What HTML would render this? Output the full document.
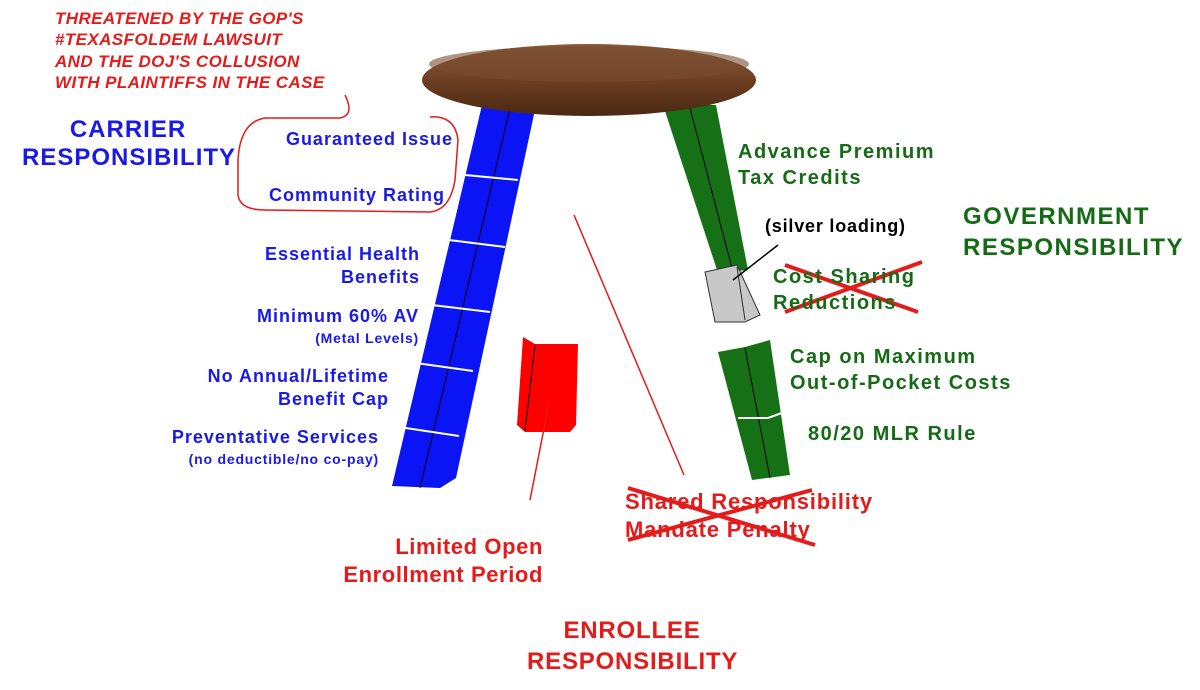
<!DOCTYPE html>
<html><head><meta charset="utf-8"><style>
body{margin:0;background:#fff;}
.w{position:relative;width:1200px;height:690px;overflow:hidden;font-family:"Liberation Sans",sans-serif;font-weight:bold;}
.t{position:absolute;white-space:nowrap;line-height:1.15;}
.b{color:#1a1ae6;font-size:18px;letter-spacing:1px;text-align:right;}
.b span{font-size:14px;letter-spacing:0.8px;}
.g{color:#156b15;font-size:20px;letter-spacing:1.5px;}
.r{color:#e31b1b;}
svg{position:absolute;left:0;top:0;}
</style></head><body><div class="w">
<svg width="1200" height="690">
<defs><linearGradient id="wd" x1="0" y1="0" x2="0" y2="1"><stop offset="0" stop-color="#8a5a3a"/><stop offset="0.5" stop-color="#6e3f22"/><stop offset="1" stop-color="#4a2812"/></linearGradient></defs>
<polygon points="482,105 536,105 456,478 440,488 392,486" fill="#0a14f5"/>
<line x1="510" y1="108" x2="420" y2="488" stroke="#000" stroke-width="1"/>
<g stroke="#fff" stroke-width="2">
<line x1="465" y1="175" x2="518" y2="180"/><line x1="449" y1="240" x2="505" y2="247"/>
<line x1="432" y1="305" x2="490" y2="312"/><line x1="416" y1="363" x2="473" y2="371"/>
<line x1="399" y1="427" x2="459" y2="436"/></g>
<polygon points="663,105 716,105 748,270 718,273" fill="#167016"/>
<line x1="690" y1="108" x2="733" y2="272" stroke="#000"/>
<polygon points="705,272 737,265 760,315 745,322 715,322" fill="#c8c8c8" stroke="#333"/>
<line x1="737" y1="267" x2="745" y2="320" stroke="#333"/>
<line x1="733" y1="280" x2="778" y2="245" stroke="#000" stroke-width="1.5"/>
<polygon points="718,352 745,347 770,340 790,475 752,480" fill="#167016"/>
<line x1="745" y1="348" x2="770" y2="478" stroke="#000"/>
<polyline points="738,418 768,418 790,410" stroke="#fff" stroke-width="2" fill="none"/>
<polygon points="523,337 535,344 578,344 576,425 570,432 525,432 517,425" fill="#f00"/>
<line x1="535" y1="345" x2="525" y2="431" stroke="#000"/>
<line x1="549" y1="403" x2="530" y2="500" stroke="#e31b1b" stroke-width="1.5"/>
<line x1="574" y1="215" x2="684" y2="475" stroke="#e31b1b" stroke-width="1.5"/>
<ellipse cx="589" cy="80" rx="167" ry="36" fill="url(#wd)"/>
<ellipse cx="589" cy="64" rx="160" ry="18" fill="#7a4d31" opacity="0.6"/>
<path d="M345,95 Q355,115 340,118 L265,118 Q240,122 238,160 L238,195 Q240,210 265,210 L430,212 Q450,210 455,180 L458,140 Q455,115 430,117" fill="none" stroke="#e31b1b" stroke-width="1.5"/>
<g stroke="#e31b1b" stroke-width="4"><line x1="785" y1="265" x2="918" y2="312"/><line x1="785" y1="312" x2="922" y2="262"/>
<line x1="628" y1="488" x2="815" y2="545"/><line x1="628" y1="540" x2="812" y2="490"/></g>
</svg>
<div class="t r" style="left:55px;top:8px;font-size:17px;letter-spacing:0.4px;font-style:italic;line-height:1.25;">THREATENED BY THE GOP'S<br>#TEXASFOLDEM LAWSUIT<br>AND THE DOJ'S COLLUSION<br>WITH PLAINTIFFS IN THE CASE</div>
<div class="t" style="left:22px;top:116px;color:#1a1ae6;font-size:24px;letter-spacing:1px;text-align:center;line-height:1.15;width:212px;">CARRIER<br>RESPONSIBILITY</div>
<div class="t b" style="right:747px;top:129px;">Guaranteed Issue</div>
<div class="t b" style="right:755px;top:185px;">Community Rating</div>
<div class="t b" style="right:780px;top:243px;line-height:1.25;">Essential Health<br>Benefits</div>
<div class="t b" style="right:781px;top:306px;">Minimum 60% AV<br><span>(Metal Levels)</span></div>
<div class="t b" style="right:811px;top:365px;line-height:1.25;">No Annual/Lifetime<br>Benefit Cap</div>
<div class="t b" style="right:821px;top:427px;">Preventative Services<br><span>(no deductible/no co-pay)</span></div>
<div class="t g" style="left:738px;top:139px;line-height:1.3;">Advance Premium<br>Tax Credits</div>
<div class="t" style="left:765px;top:216px;font-size:18px;letter-spacing:0.8px;color:#000;">(silver loading)</div>
<div class="t" style="left:963px;top:201px;color:#156b15;font-size:24px;letter-spacing:1.5px;line-height:1.3;">GOVERNMENT<br>RESPONSIBILITY</div>
<div class="t g" style="left:773px;top:264px;line-height:1.3;">Cost Sharing<br>Reductions</div>
<div class="t g" style="left:790px;top:344px;line-height:1.3;">Cap on Maximum<br>Out-of-Pocket Costs</div>
<div class="t g" style="left:808px;top:423px;">80/20 MLR Rule</div>
<div class="t r" style="left:625px;top:488px;font-size:22px;letter-spacing:0.8px;line-height:1.25;">Shared Responsibility<br>Mandate Penalty</div>
<div class="t r" style="right:657px;top:533px;font-size:22px;letter-spacing:0.6px;line-height:1.25;text-align:right;">Limited Open<br>Enrollment Period</div>
<div class="t r" style="left:527px;top:615px;width:210px;font-size:24px;letter-spacing:0.8px;line-height:1.3;text-align:center;">ENROLLEE<br>RESPONSIBILITY</div>
</div></body></html>
